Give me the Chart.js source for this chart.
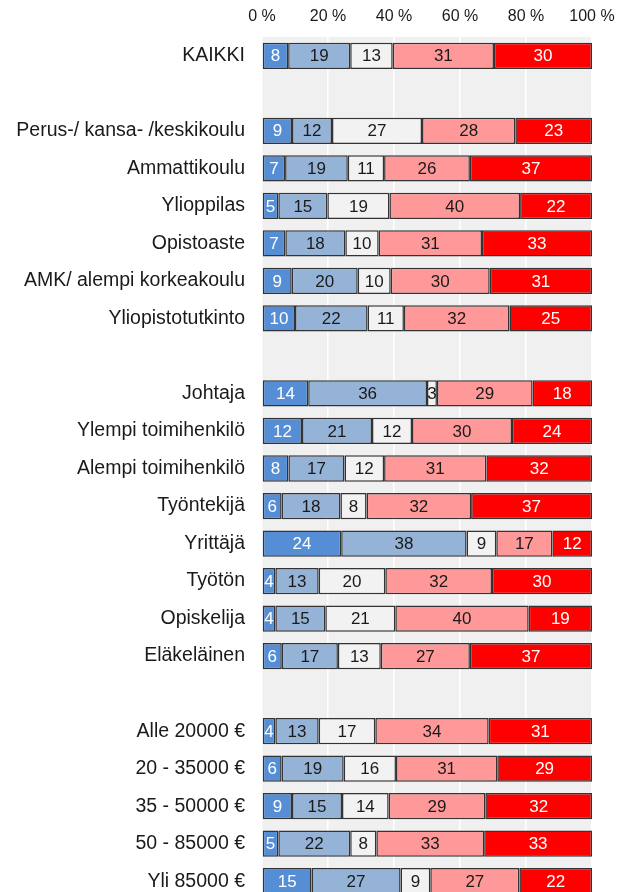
<!doctype html>
<html>
	<head>
		<title>Stacked bars</title>
		<script src="https://cdn.jsdelivr.net/npm/chart.js@4/dist/chart.umd.min.js"></script>
		<style>
			html, body {
				margin: 0;
				padding: 0;
				background: #fff;
				overflow: hidden;
			}
			#wrap {
				width: 617px;
				height: 900px;
			}
		</style>
	</head>
	<body>
		<div id="wrap"><canvas id="canvas_0" width="617" height="900"></canvas></div>

		<script>
			// rows ('' = empty separator row)
			var categories = [
				'KAIKKI', '',
				'Perus-/ kansa- /keskikoulu', 'Ammattikoulu', 'Ylioppilas', 'Opistoaste',
				'AMK/ alempi korkeakoulu', 'Yliopistotutkinto', '',
				'Johtaja', 'Ylempi toimihenkilö', 'Alempi toimihenkilö', 'Työntekijä',
				'Yrittäjä', 'Työtön', 'Opiskelija', 'Eläkeläinen', '',
				'Alle 20000 €', '20 - 35000 €', '35 - 50000 €', '50 - 85000 €', 'Yli 85000 €'
			];
			var s1 = [8, null, 9, 7, 5, 7, 9, 10, null, 14, 12, 8, 6, 24, 4, 4, 6, null, 4, 6, 9, 5, 15];
			var s2 = [19, null, 12, 19, 15, 18, 20, 22, null, 36, 21, 17, 18, 38, 13, 15, 17, null, 13, 19, 15, 22, 27];
			var s3 = [13, null, 27, 11, 19, 10, 10, 11, null, 3, 12, 12, 8, 9, 20, 21, 13, null, 17, 16, 14, 8, 9];
			var s4 = [31, null, 28, 26, 40, 31, 30, 32, null, 29, 30, 31, 32, 17, 32, 40, 27, null, 34, 31, 29, 33, 27];
			var s5 = [30, null, 23, 37, 22, 33, 31, 25, null, 18, 24, 32, 37, 12, 30, 19, 37, null, 31, 29, 32, 33, 22];
			var xTicks = [0, 20, 40, 60, 80, 100];

			var series = [s1, s2, s3, s4, s5];
			var colors = ['#558ed5', '#95b3d7', '#f2f2f2', '#ff9999', '#ff0000'];
			var labelColors = ['#fff', '#1a1a1a', '#1a1a1a', '#1a1a1a', '#fff'];

			// rounded figures do not always add up to 100, bars fill the full width
			var totals = categories.map(function(c, i) {
				var t = 0;
				series.forEach(function(s) { t += s[i] || 0; });
				return t;
			});

			var datasets = series.map(function(s, k) {
				return {
					data: s.map(function(v, i) { return v == null ? null : v / totals[i] * 100; }),
					raw: s,
					backgroundColor: colors[k],
					borderColor: '#333',
					borderWidth: 1.5,
					borderSkipped: false,
					barPercentage: 0.7,
					categoryPercentage: 1
				};
			});

			var plotBg = {
				id: 'plotBg',
				beforeDraw: function(chart) {
					var a = chart.chartArea, ctx = chart.ctx;
					ctx.save();
					ctx.fillStyle = '#f0f0f0';
					ctx.fillRect(a.left, a.top, a.right - a.left, a.bottom - a.top);
					ctx.restore();
				}
			};

			var valueLabels = {
				id: 'valueLabels',
				afterDatasetsDraw: function(chart) {
					var ctx = chart.ctx;
					ctx.save();
					ctx.font = '17px "Liberation Sans", Arial, sans-serif';
					ctx.textAlign = 'center';
					ctx.textBaseline = 'middle';
					chart.data.datasets.forEach(function(ds, k) {
						var meta = chart.getDatasetMeta(k);
						meta.data.forEach(function(bar, i) {
							if (ds.raw[i] == null) return;
							ctx.fillStyle = labelColors[k];
							ctx.fillText(String(ds.raw[i]), (bar.x + bar.base) / 2, bar.y + 1);
						});
					});
					ctx.restore();
				}
			};

			// no extra room for overhanging tick labels
			function noPadding(scale) {
				scale.paddingLeft = scale.paddingRight = scale.paddingTop = scale.paddingBottom = 0;
			}

			new Chart(document.getElementById('canvas_0').getContext('2d'), {
				type: 'bar',
				data: { labels: categories, datasets: datasets },
				plugins: [plotBg, valueLabels],
				options: {
					indexAxis: 'y',
					responsive: false,
					animation: false,
					layout: { padding: { left: 0, right: 25, top: 0, bottom: 0 } },
					plugins: { legend: { display: false }, tooltip: { enabled: false } },
					scales: {
						x: {
							position: 'top',
							stacked: true,
							min: 0,
							max: 100,
							afterBuildTicks: function(scale) {
								scale.ticks = xTicks.map(function(v) { return { value: v }; });
							},
							afterFit: function(scale) { scale.height = 37; noPadding(scale); },
							ticks: {
								padding: 11,
								color: '#1a1a1a',
								font: { family: '"Liberation Sans", Arial, sans-serif', size: 16 },
								callback: function(v) { return v + ' %'; }
							},
							grid: { color: '#ffffff', lineWidth: 1.5, drawTicks: false },
							border: { display: false }
						},
						y: {
							stacked: true,
							afterFit: function(scale) { scale.width = 262; noPadding(scale); },
							ticks: {
								padding: 17,
								color: '#1a1a1a',
								font: { family: '"Liberation Sans", Arial, sans-serif', size: 19.5 }
							},
							grid: { display: false, drawTicks: false },
							border: { display: false }
						}
					}
				}
			});
		</script>
	</body>
</html>
